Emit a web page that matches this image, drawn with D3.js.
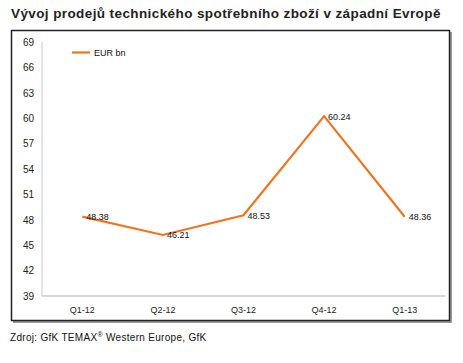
<!DOCTYPE html>
<html><head><meta charset="utf-8">
<script src="https://cdn.jsdelivr.net/npm/d3@7"></script>
<style>body{margin:0;background:#fff;}svg{display:block;font-family:"Liberation Sans",Arial,sans-serif;}</style>
</head><body>
<svg id="c" width="463" height="363"></svg>
<script>
const categories = ["Q1-12","Q2-12","Q3-12","Q4-12","Q1-13"];
const values = [48.38, 46.21, 48.53, 60.24, 48.36];
const valueLabels = ["48.38","46.21","48.53","60.24","48.36"];
const yTicks = [39,42,45,48,51,54,57,60,63,66,69];
const seriesName = "EUR bn";
const title = "Vývoj prodejů technického spotřebního zboží v západní Evropě";

const svg = d3.select("#c");
svg.append("text").attr("x",11).attr("y",18).attr("font-size",13.5).attr("font-weight","bold").attr("letter-spacing",0.4).attr("fill","#222").text(title);
// frame
svg.append("rect").attr("x",13).attr("y",32).attr("width",439).attr("height",291).attr("fill","#999");
svg.append("rect").attr("x",11.5).attr("y",30.5).attr("width",438).attr("height",290).attr("fill","#fff").attr("stroke","#222").attr("stroke-width",1.5);

const x = d3.scaleBand().domain(categories).range([42,445]);
const y = d3.scaleLinear().domain([39,69]).range([296,42]);

const g = svg.append("g");
g.append("line").attr("x1",42).attr("x2",42).attr("y1",42).attr("y2",296).attr("stroke","#c8c8c8").attr("stroke-width",1);
g.append("line").attr("x1",42).attr("x2",445).attr("y1",296).attr("y2",296).attr("stroke","#c8c8c8").attr("stroke-width",1.5);

const yAxis = d3.axisLeft(y).tickValues(yTicks).tickSize(0).tickPadding(8);
const ya = svg.append("g").attr("transform","translate(42,0)").call(yAxis);
ya.select(".domain").remove();
ya.selectAll("text").attr("font-size",10).attr("fill","#222").attr("font-family","Liberation Sans, Arial, sans-serif");

const xAxis = d3.axisBottom(x).tickSize(0).tickPadding(11);
const xa = svg.append("g").attr("transform","translate(0,296)").call(xAxis);
xa.select(".domain").remove();
xa.selectAll("text").attr("font-size",9).attr("fill","#222").attr("font-family","Liberation Sans, Arial, sans-serif");

const cx = d => x(d) + x.bandwidth()/2;
const line = d3.line().x((d,i)=>cx(categories[i])).y(d=>y(d));
svg.append("path").datum(values).attr("d",line).attr("fill","none").attr("stroke","#EE7420").attr("stroke-width",2.2).attr("stroke-linejoin","miter");

svg.selectAll(".vl").data(values).enter().append("text")
  .attr("x",(d,i)=>cx(categories[i])+4).attr("y",d=>y(d)+3.5)
  .attr("font-size",9).attr("fill","#111").text((d,i)=>valueLabels[i]);

// legend
svg.append("line").attr("x1",72).attr("x2",90).attr("y1",52.5).attr("y2",52.5).attr("stroke","#EE7420").attr("stroke-width",2.2);
svg.append("text").attr("x",94).attr("y",56).attr("font-size",9).attr("fill","#111").text(seriesName);

// footer
const f = svg.append("text").attr("x",10).attr("y",341).attr("font-size",10).attr("letter-spacing",0.3).attr("fill","#111");
f.append("tspan").text("Zdroj: GfK TEMAX");
f.append("tspan").attr("font-size",7).attr("dy",-4).text("®");
f.append("tspan").attr("dy",4).text(" Western Europe, GfK");
</script>
</body></html>
